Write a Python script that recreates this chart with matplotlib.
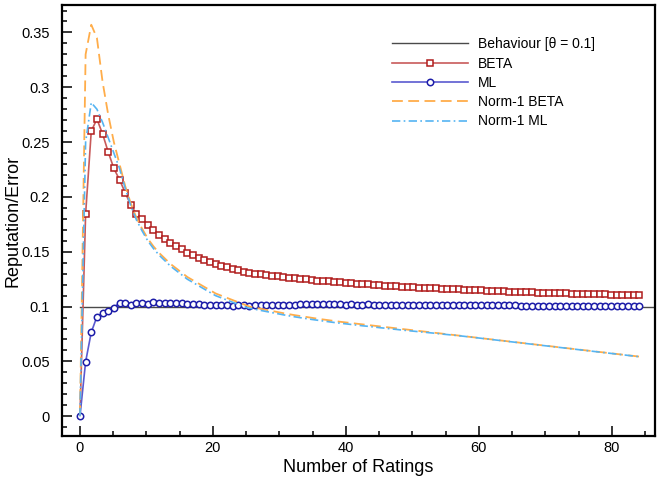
import numpy as np
import matplotlib
matplotlib.use("Agg")
import matplotlib.pyplot as plt
from matplotlib.ticker import MultipleLocator, FuncFormatter

plt.rcParams['font.family'] = ['Liberation Sans', 'DejaVu Sans']

# rating counts (100 samples, evenly spaced)
n_points = 100
ratings = np.arange(n_points) * 0.85

theta = 0.1

beta = [
    0.0, 0.1845, 0.260, 0.271, 0.2575, 0.241, 0.226, 0.2157, 0.204, 0.1925,
    0.1845, 0.1800, 0.1745, 0.1695, 0.1650, 0.1615, 0.1580, 0.1550, 0.1523, 0.1492,
    0.1466, 0.1445, 0.1424, 0.1405, 0.1387, 0.1372, 0.1358, 0.1345, 0.1332, 0.1318,
    0.1305, 0.1299, 0.1293, 0.1287, 0.1281, 0.1275, 0.1269, 0.1264, 0.1258, 0.1253,
    0.1248, 0.1243, 0.1238, 0.1234, 0.1229, 0.1225, 0.1221, 0.1217, 0.1213, 0.1209,
    0.1205, 0.1202, 0.1198, 0.1195, 0.1192, 0.1189, 0.1186, 0.1183, 0.1180, 0.1177,
    0.1174, 0.1171, 0.1168, 0.1166, 0.1163, 0.1161, 0.1158, 0.1156, 0.1153, 0.1151,
    0.1149, 0.1147, 0.1145, 0.1143, 0.1141, 0.1139, 0.1137, 0.1135, 0.1133, 0.1131,
    0.1130, 0.1128, 0.1126, 0.1125, 0.1123, 0.1122, 0.1120, 0.1119, 0.1117, 0.1116,
    0.1115, 0.1113, 0.1112, 0.1111, 0.1110, 0.1108, 0.1107, 0.1106, 0.1105, 0.1104,
]

ml = [
    0.0, 0.0497, 0.0766, 0.0908, 0.0940, 0.0958, 0.0988, 0.1037, 0.1037, 0.1016,
    0.1031, 0.1031, 0.1022, 0.1040, 0.1037, 0.1034, 0.1034, 0.1037, 0.1031, 0.1022,
    0.1022, 0.1022, 0.1015, 0.1012, 0.1012, 0.1014, 0.1012, 0.1010, 0.1012, 0.1013,
    0.1010, 0.1012, 0.1014, 0.1015, 0.1016, 0.1017, 0.1018, 0.1018, 0.1019, 0.1020,
    0.1020, 0.1021, 0.1021, 0.1020, 0.1021, 0.1020, 0.1020, 0.1019, 0.1020, 0.1019,
    0.1019, 0.1020, 0.1019, 0.1019, 0.1018, 0.1019, 0.1018, 0.1018, 0.1017, 0.1018,
    0.1017, 0.1017, 0.1016, 0.1016, 0.1015, 0.1015, 0.1014, 0.1014, 0.1013, 0.1013,
    0.1013, 0.1012, 0.1012, 0.1012, 0.1011, 0.1011, 0.1011, 0.1011, 0.1010, 0.1010,
    0.1010, 0.1010, 0.1010, 0.1010, 0.1009, 0.1009, 0.1009, 0.1009, 0.1009, 0.1009,
    0.1009, 0.1009, 0.1008, 0.1008, 0.1008, 0.1008, 0.1008, 0.1008, 0.1008, 0.1008,
]

norm1_beta = [
    0.0, 0.330, 0.357, 0.345, 0.305, 0.275, 0.250, 0.230, 0.210, 0.194,
    0.181, 0.171, 0.162, 0.155, 0.149, 0.144, 0.139, 0.135, 0.131, 0.127,
    0.124, 0.121, 0.118, 0.115, 0.112, 0.110, 0.108, 0.106, 0.104, 0.102,
    0.1000, 0.0990, 0.0980, 0.0970, 0.0960, 0.0950, 0.0940, 0.0931, 0.0922, 0.0914,
    0.0906, 0.0898, 0.0890, 0.0883, 0.0876, 0.0869, 0.0862, 0.0856, 0.0850, 0.0844,
    0.0838, 0.0832, 0.0826, 0.0820, 0.0814, 0.0808, 0.0802, 0.0796, 0.0790, 0.0784,
    0.0778, 0.0772, 0.0766, 0.0760, 0.0754, 0.0748, 0.0742, 0.0736, 0.0730, 0.0724,
    0.0718, 0.0712, 0.0706, 0.0700, 0.0694, 0.0688, 0.0682, 0.0676, 0.0670, 0.0664,
    0.0658, 0.0652, 0.0646, 0.0640, 0.0634, 0.0628, 0.0622, 0.0616, 0.0610, 0.0604,
    0.0598, 0.0592, 0.0586, 0.0580, 0.0574, 0.0568, 0.0562, 0.0556, 0.0550, 0.0544,
]

norm1_ml = [
    0.0, 0.250, 0.286, 0.280, 0.268, 0.254, 0.240, 0.226, 0.208, 0.192,
    0.179, 0.169, 0.160, 0.153, 0.147, 0.142, 0.137, 0.133, 0.129, 0.125,
    0.122, 0.119, 0.116, 0.113, 0.110, 0.108, 0.106, 0.104, 0.102, 0.100,
    0.0985, 0.0975, 0.0965, 0.0955, 0.0945, 0.0935, 0.0925, 0.0916, 0.0907, 0.0899,
    0.0891, 0.0883, 0.0876, 0.0869, 0.0862, 0.0855, 0.0849, 0.0843, 0.0837, 0.0831,
    0.0825, 0.0820, 0.0814, 0.0808, 0.0803, 0.0797, 0.0792, 0.0786, 0.0781, 0.0776,
    0.0771, 0.0766, 0.0761, 0.0756, 0.0750, 0.0745, 0.0740, 0.0735, 0.0729, 0.0723,
    0.0717, 0.0711, 0.0705, 0.0699, 0.0693, 0.0687, 0.0681, 0.0675, 0.0669, 0.0663,
    0.0657, 0.0651, 0.0645, 0.0639, 0.0633, 0.0627, 0.0621, 0.0615, 0.0609, 0.0603,
    0.0597, 0.0591, 0.0585, 0.0579, 0.0573, 0.0567, 0.0561, 0.0555, 0.0549, 0.0543,
]

x_lo, x_hi = -2.7, 86.5
y_lo, y_hi = -0.018, 0.375

fig = plt.figure(figsize=(6.69, 4.83), dpi=100)
ax = fig.add_axes([0.0927, 0.0973, 0.8863, 0.8923])

ax.plot([0, x_hi], [theta, theta], color='#4a4a4a', lw=1.0,
        label='Behaviour [\u03b8 = 0.1]')
ax.plot(ratings, beta, color='#c85a5a', lw=1.2, marker='s', ms=4.2,
        mfc='white', mec='#b01c1c', mew=1.1, markevery=slice(1, None),
        label='BETA')
ax.plot(ratings, ml, color='#5a5ad0', lw=1.2, marker='o', ms=4.6,
        mfc='white', mec='#1c1ca8', mew=1.1, label='ML')
ax.plot(ratings, norm1_beta, color='#ffad4a', lw=1.3, ls=(0, (6, 3)),
        label='Norm-1 BETA')
ax.plot(ratings, norm1_ml, color='#55b4f2', lw=1.2, ls=(0, (5, 2, 1, 2)),
        label='Norm-1 ML')

ax.set_xlim(x_lo, x_hi)
ax.set_ylim(y_lo, y_hi)
ax.xaxis.set_major_locator(MultipleLocator(20))
ax.xaxis.set_minor_locator(MultipleLocator(5))
ax.yaxis.set_major_locator(MultipleLocator(0.05))
ax.yaxis.set_minor_locator(MultipleLocator(0.01))
ax.yaxis.set_major_formatter(FuncFormatter(lambda v, p: '%g' % round(v, 3)))
ax.tick_params(which='both', direction='in', top=False, right=False,
               labelsize=10.5, width=1.1)
ax.tick_params(which='major', length=7)
ax.tick_params(axis='y', pad=9)
ax.tick_params(which='minor', length=3.5)
for s in ax.spines.values():
    s.set_linewidth(1.6)

ax.set_xlabel('Number of Ratings', fontsize=13, labelpad=3)
ax.set_ylabel('Reputation/Error', fontsize=13)
ax.yaxis.set_label_coords(-0.068, 0.5)

ax.legend(loc='upper left', bbox_to_anchor=(0.556, 0.925), frameon=False,
          fontsize=10, handlelength=5.5, handletextpad=0.7,
          labelspacing=0.38, borderpad=0, borderaxespad=0)

fig.savefig('out.png', dpi=100)
